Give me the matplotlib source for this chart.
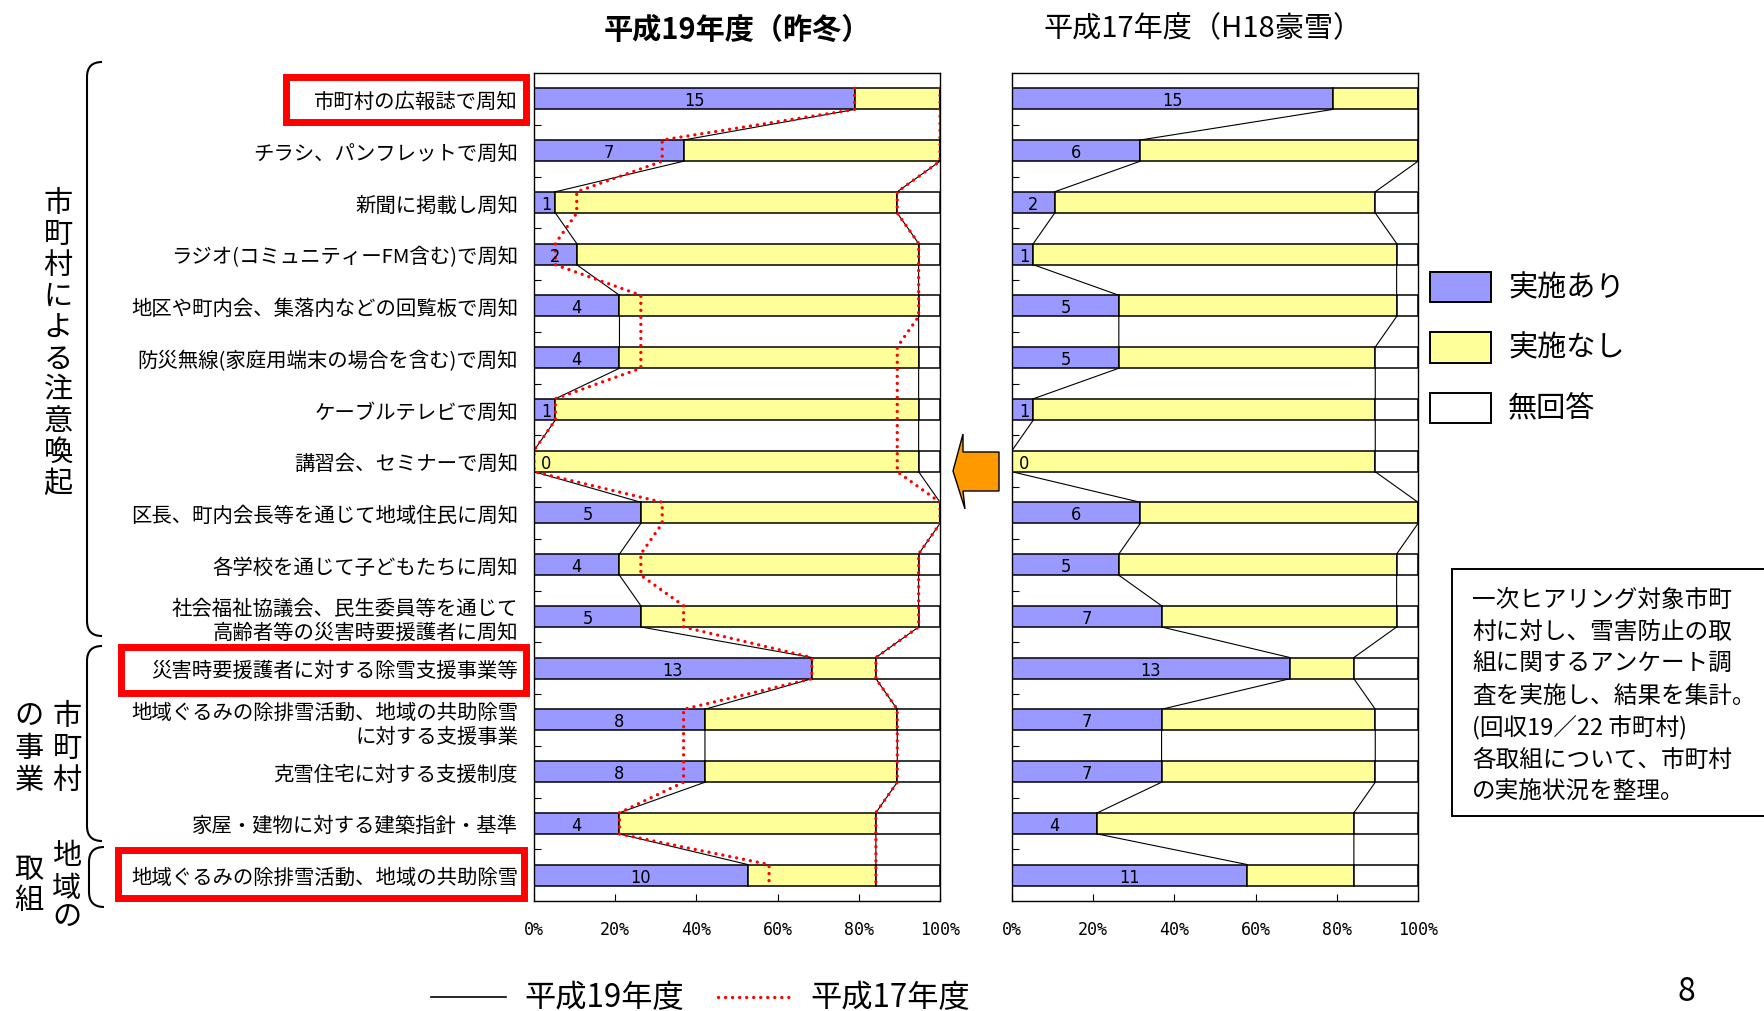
import numpy as np
import matplotlib
matplotlib.use("Agg")
import matplotlib.pyplot as plt
from matplotlib.patches import Rectangle, Polygon, PathPatch
from matplotlib.path import Path
from matplotlib.lines import Line2D

plt.rcParams['font.family'] = ['Noto Sans CJK JP', 'DejaVu Sans']

W, H = 1764, 1012

categories = [
    "市町村の広報誌で周知",
    "チラシ、パンフレットで周知",
    "新聞に掲載し周知",
    "ラジオ(コミュニティーFM含む)で周知",
    "地区や町内会、集落内などの回覧板で周知",
    "防災無線(家庭用端末の場合を含む)で周知",
    "ケーブルテレビで周知",
    "講習会、セミナーで周知",
    "区長、町内会長等を通じて地域住民に周知",
    "各学校を通じて子どもたちに周知",
    "社会福祉協議会、民生委員等を通じて\n高齢者等の災害時要援護者に周知",
    "災害時要援護者に対する除雪支援事業等",
    "地域ぐるみの除排雪活動、地域の共助除雪\nに対する支援事業",
    "克雪住宅に対する支援制度",
    "家屋・建物に対する建築指針・基準",
    "地域ぐるみの除排雪活動、地域の共助除雪",
]

# 平成19年度 (counts of municipalities)
h19_yes = [15, 7, 1, 2, 4, 4, 1, 0, 5, 4, 5, 13, 8, 8, 4, 10]
h19_no = [4, 12, 16, 16, 14, 14, 17, 18, 14, 14, 13, 3, 9, 9, 12, 6]
h19_na = [0, 0, 2, 1, 1, 1, 1, 1, 0, 1, 1, 3, 2, 2, 3, 3]

# 平成17年度
h17_yes = [15, 6, 2, 1, 5, 5, 1, 0, 6, 5, 7, 13, 7, 7, 4, 11]
h17_no = [4, 13, 15, 17, 13, 12, 16, 17, 13, 13, 11, 3, 10, 10, 12, 5]
h17_na = [0, 0, 2, 1, 1, 2, 2, 2, 0, 1, 1, 3, 2, 2, 3, 3]

x_ticks = [0, 20, 40, 60, 80, 100]
x_tick_labels = ["0%", "20%", "40%", "60%", "80%", "100%"]

legend_names = ["実施あり", "実施なし", "無回答"]
panel_titles = ["平成19年度（昨冬）", "平成17年度（H18豪雪）"]
line_legend = ["平成19年度", "平成17年度"]

note_lines = [
    "一次ヒアリング対象市町",
    "村に対し、雪害防止の取",
    "組に関するアンケート調",
    "査を実施し、結果を集計。",
    "(回収19／22 市町村)",
    "各取組について、市町村",
    "の実施状況を整理。",
]

BLUE = "#9999FF"
YELLOW = "#FFFF99"
RED = "#FF0000"
ORANGE = "#FF9900"
BAR_H = 0.41
DOT = (0, (0.01, 2.1))

fig = plt.figure(figsize=(W / 100, H / 100), dpi=100)


def fx(x):
    return x / W


def fy(y):
    return 1 - y / H


def shares(yes, no, na):
    yes, no, na = (np.asarray(a, float) for a in (yes, no, na))
    total = yes + no + na
    return yes / total * 100, no / total * 100, na / total * 100


def stepped(cum):
    rows = np.arange(len(cum))
    xs = np.repeat(cum, 2)
    ys = np.ravel(np.column_stack([rows - BAR_H / 2, rows + BAR_H / 2]))
    return xs, ys


def draw_panel(ax, yes, no, na):
    p_yes, p_no, p_na = shares(yes, no, na)
    rows = np.arange(len(categories))
    kw = dict(height=BAR_H, edgecolor="black", linewidth=1.1, zorder=3)
    ax.barh(rows, p_yes, color=BLUE, **kw)
    ax.barh(rows, p_no, left=p_yes, color=YELLOW, **kw)
    ax.barh(rows, p_na, left=p_yes + p_no, color="white", **kw)
    for i, v in enumerate(yes):
        xpos = max(p_yes[i] / 2, 3.0)
        ax.text(xpos, i + 0.03, str(v), ha="center", va="center",
                fontsize=13, family="DejaVu Sans", fontstretch="condensed",
                zorder=5)
    for cum in (p_yes, p_yes + p_no):
        xs, ys = stepped(cum)
        ax.plot(xs, ys, color="black", lw=0.8, zorder=2)
    ax.set_xlim(0, 100)
    ax.set_ylim(len(categories) - 0.5, -0.5)
    ax.set_xticks(x_ticks)
    ax.set_xticklabels(x_tick_labels, family="DejaVu Sans Mono", fontsize=12)
    ax.tick_params(axis="x", direction="in", length=5, pad=14)
    ax.set_yticks(rows)
    ax.set_yticks(np.arange(0.5, len(categories) - 1, 1), minor=True)
    ax.tick_params(axis="y", which="major", length=0, pad=11.5)
    ax.tick_params(axis="y", which="minor", direction="in", length=5, width=0.8)
    for s in ax.spines.values():
        s.set_linewidth(1.0)
        s.set_zorder(6)
    return p_yes, p_no


ax1 = fig.add_axes([fx(534), fy(902), (940 - 534) / W, (902 - 74) / H])
ax2 = fig.add_axes([fx(1012), fy(902), (1418 - 1012) / W, (902 - 74) / H])

draw_panel(ax1, h19_yes, h19_no, h19_na)
ax1.set_yticklabels(categories, fontsize=14.7)

# 平成17年度 boundaries drawn over the 平成19年度 bars
q_yes, q_no, _ = shares(h17_yes, h17_no, h17_na)
for cum in (q_yes, q_yes + q_no):
    xs, ys = stepped(cum)
    ax1.plot(xs, ys, color=RED, lw=2.4, linestyle=DOT,
             dash_capstyle="round", zorder=4)

draw_panel(ax2, h17_yes, h17_no, h17_na)
ax2.set_yticklabels([""] * len(categories))

# Panel titles
fig.text(fx(737), fy(30), panel_titles[0], ha="center", va="center",
         fontsize=21, fontweight="bold")
fig.text(fx(1203), fy(29), panel_titles[1], ha="center", va="center",
         fontsize=21)

# Highlight frames around key categories
for x0, y0, x1, y1 in [(285.5, 77.5, 525.5, 122.5),
                       (120.5, 647.5, 525.5, 693.5),
                       (118, 851.5, 523.5, 898.5)]:
    fig.add_artist(Rectangle((fx(x0), fy(y1)), fx(x1) - fx(x0), fy(y0) - fy(y1),
                             transform=fig.transFigure, fill=False,
                             edgecolor=RED, lw=5, zorder=10))

# Group brackets
for top, bot, xv in [(63, 637, 87), (647, 842, 87), (848, 908, 89)]:
    xe = xv + 15
    verts = [(xe, top), (xv, top), (xv, top + 15), (xv, bot - 15),
             (xv, bot), (xe, bot)]
    codes = [Path.MOVETO, Path.CURVE3, Path.CURVE3, Path.LINETO,
             Path.CURVE3, Path.CURVE3]
    path = Path([(fx(a), fy(b)) for a, b in verts], codes)
    fig.add_artist(PathPatch(path, transform=fig.transFigure, fill=False,
                             lw=1.5, edgecolor="black"))

# Group names, written vertically
def vtext(chars, x, ys, size=21):
    for ch, yy in zip(chars, ys):
        fig.text(fx(x), fy(yy), ch, ha="center", va="center", fontsize=size)


vtext("市町村による注意喚起", 58, [204 + k * 31.1 for k in range(10)])
vtext("市町村", 67, [717, 749, 781])
vtext("の事業", 29, [717, 749, 781])
vtext("地域の", 67, [856, 889, 918])
vtext("取組", 29, [870, 901])

# Arrow between the panels
arrow_px = [(953, 472), (963, 435), (963, 453), (999, 453),
            (999, 492), (963, 492), (965, 510)]
fig.add_artist(Polygon([(fx(a), fy(b)) for a, b in arrow_px], closed=True,
                       transform=fig.transFigure, facecolor=ORANGE,
                       edgecolor="black", lw=1.0))

# Colour key
for k, (name, col) in enumerate(zip(legend_names, [BLUE, YELLOW, "white"])):
    top = 273 + k * 60.5
    fig.add_artist(Rectangle((fx(1430), fy(top + 30)), 61 / W, 30 / H,
                             transform=fig.transFigure, facecolor=col,
                             edgecolor="black", lw=1.4))
    fig.text(fx(1508), fy(top + 15), name, ha="left", va="center", fontsize=21)

# Note box
fig.add_artist(Rectangle((fx(1452), fy(817)), (1780 - 1452) / W, (817 - 570) / H,
                         transform=fig.transFigure, facecolor="white",
                         edgecolor="black", lw=1.4))
for k, line in enumerate(note_lines):
    fig.text(fx(1472), fy(600 + k * 32), line, ha="left", va="center",
             fontsize=17)

# Line key at the bottom
fig.add_artist(Line2D([fx(431), fx(506)], [fy(998), fy(998)],
                      transform=fig.transFigure, color="black", lw=1.2))
fig.text(fx(524), fy(998), line_legend[0], ha="left", va="center", fontsize=22.5)
fig.add_artist(Line2D([fx(718), fx(794)], [fy(998), fy(998)],
                      transform=fig.transFigure, color=RED, lw=2.4,
                      linestyle=DOT, dash_capstyle="round"))
fig.text(fx(810), fy(998), line_legend[1], ha="left", va="center", fontsize=22.5)

# Page number
fig.text(fx(1686), fy(992), "8", ha="center", va="center", fontsize=23)

fig.savefig("out.png", dpi=100)
